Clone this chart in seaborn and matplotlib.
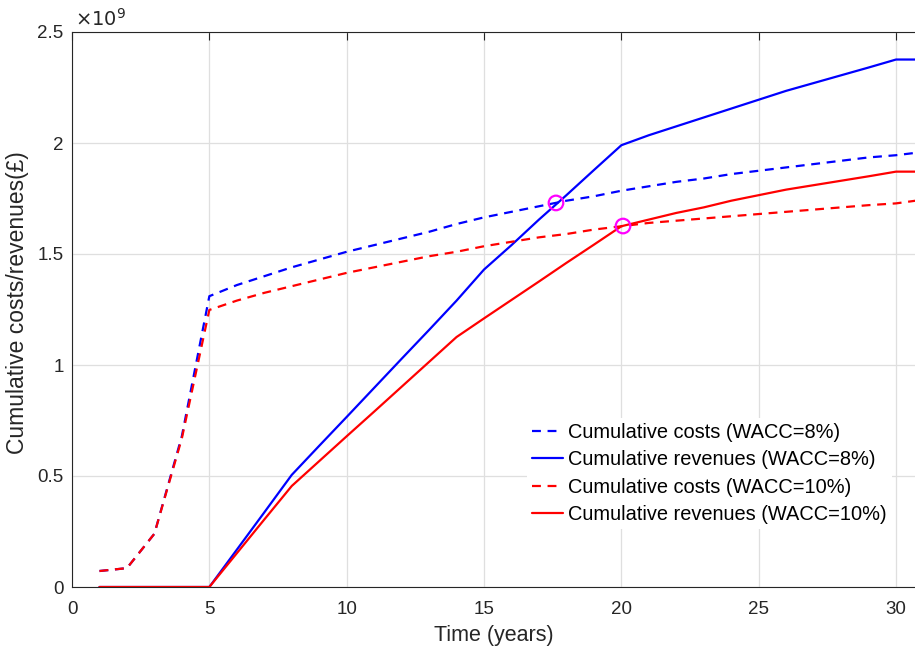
import matplotlib
matplotlib.use("Agg")
import matplotlib.pyplot as plt
import seaborn as sns
import numpy as np
import pandas as pd

years = list(range(1, 32))
costs_8 = [0.072, 0.085, 0.24, 0.68, 1.31, 1.36, 1.40, 1.44, 1.475, 1.51,
           1.54, 1.57, 1.60, 1.635, 1.665, 1.69, 1.715, 1.74, 1.76, 1.785,
           1.805, 1.825, 1.84, 1.86, 1.875, 1.89, 1.905, 1.92, 1.935, 1.945, 1.96]
rev_8 = [0, 0, 0, 0, 0, 0.168, 0.336, 0.505, 0.636, 0.766,
         0.897, 1.028, 1.158, 1.29, 1.43, 1.54, 1.655, 1.765, 1.878, 1.99,
         2.035, 2.075, 2.115, 2.155, 2.195, 2.235, 2.27, 2.305, 2.34, 2.376, 2.376]
costs_10 = [0.072, 0.085, 0.24, 0.67, 1.248, 1.29, 1.325, 1.355, 1.385, 1.415,
            1.44, 1.465, 1.49, 1.51, 1.535, 1.555, 1.575, 1.59, 1.61, 1.625,
            1.64, 1.65, 1.66, 1.67, 1.68, 1.69, 1.70, 1.71, 1.72, 1.728, 1.745]
rev_10 = [0, 0, 0, 0, 0, 0.152, 0.304, 0.455, 0.567, 0.679,
          0.79, 0.902, 1.014, 1.126, 1.21, 1.293, 1.376, 1.46, 1.542, 1.625,
          1.655, 1.685, 1.71, 1.74, 1.765, 1.79, 1.81, 1.83, 1.85, 1.871, 1.871]
breakeven_x = [17.62, 20.06]
breakeven_y = [1.73, 1.626]

labels = ["Cumulative costs (WACC=8%)", "Cumulative revenues (WACC=8%)",
          "Cumulative costs (WACC=10%)", "Cumulative revenues (WACC=10%)"]
series = [costs_8, rev_8, costs_10, rev_10]
colors = ["#0000FF", "#0000FF", "#FF0000", "#FF0000"]
dashed = [True, False, True, False]

sns.set_style("white")
plt.rcParams['font.family'] = ['Liberation Sans', 'DejaVu Sans']

fig = plt.figure(figsize=(9.15, 6.51), dpi=100)
ax = fig.add_axes([72 / 915, (651 - 587) / 651, 1 - 72 / 915, (587 - 32) / 651])

scale = 1e9
handles = []
for vals, lab, col, d in zip(series, labels, colors, dashed):
    df = pd.DataFrame({"x": years, "y": np.array(vals) * scale})
    n_before = len(ax.lines)
    sns.lineplot(data=df, x="x", y="y", ax=ax, color=col, linewidth=1.6, label=lab)
    ln = ax.lines[n_before]
    if d:
        ln.set_dashes((4, 3))
    handles.append(ln)

sns.scatterplot(x=breakeven_x, y=np.array(breakeven_y) * scale, ax=ax, marker="o",
                s=110, facecolors="none", edgecolors="#FF00FF", linewidth=1.6,
                zorder=5, legend=False)

ax.set_xlim(0, 30.69)
ax.set_ylim(0, 2.5e9)
ax.set_xticks([0, 5, 10, 15, 20, 25, 30])
ax.set_yticks(np.array([0, 0.5, 1, 1.5, 2, 2.5]) * scale)
ax.set_yticklabels(["0", "0.5", "1", "1.5", "2", "2.5"])
ax.grid(True, color="#DFDFDF", linewidth=0.9)
ax.set_axisbelow(True)
tc = "#262626"
ax.tick_params(axis="both", direction="in", length=6, width=0.8, colors=tc,
               labelsize=13.5, labelcolor=tc, top=True)
ax.tick_params(axis="x", pad=10)
ax.tick_params(axis="y", pad=6)
for s in ["left", "bottom", "top"]:
    ax.spines[s].set_color(tc)
    ax.spines[s].set_linewidth(0.8)
ax.spines["right"].set_visible(False)

ax.set_xlabel("Time (years)", fontsize=15.5, color=tc, labelpad=5)
ax.set_ylabel("Cumulative costs/revenues(£)", fontsize=16.5, color=tc)
ax.yaxis.set_label_coords(-43 / 843, 0.512)
ax.text(0.003, 1.004, r"$\times10^{9}$", transform=ax.transAxes, fontsize=14,
        color=tc, ha="left", va="bottom")

leg = ax.legend(handles=handles, labels=labels, loc="upper left",
                bbox_to_anchor=(527 / 915, 1 - 418 / 651), bbox_transform=fig.transFigure,
                fontsize=14.4, frameon=True, facecolor="white", edgecolor="none",
                framealpha=1, handlelength=1.55, handletextpad=0.25,
                labelspacing=0.42, borderpad=0.25, borderaxespad=0)
for t in leg.get_texts():
    t.set_color("black")

fig.savefig("out.png", dpi=100)
